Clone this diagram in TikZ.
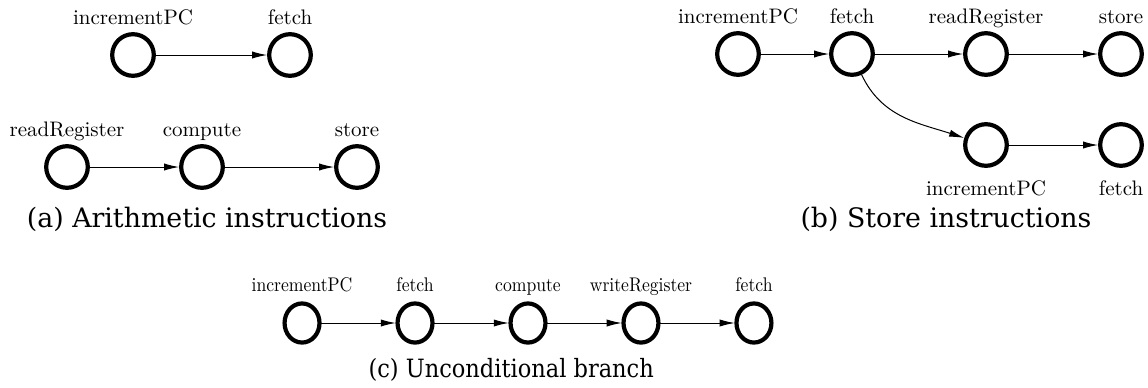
\documentclass[tikz,border=0pt]{standalone}
\usepackage{fontspec}
\newfontfamily\capfont{DejaVu Serif}
\usetikzlibrary{arrows.meta}
\begin{document}
\begin{tikzpicture}[x=0.5pt,y=0.5pt,
  state/.style={circle, draw, line width=2.1pt, minimum size=20.8pt, inner sep=0pt},
  lbl/.style={anchor=base, inner sep=0pt, font=\fontsize{10.5}{12}\selectfont},
  captext/.style={anchor=base, inner sep=0pt, font=\capfont\fontsize{13.4}{16}\selectfont},
  edge/.style={-{Latex[length=7.5pt,width=3.6pt]}, line width=0.5pt}]
\useasboundingbox (0,0) rectangle (1148,-387);

% (a) Arithmetic instructions
\node[state] (a1) at (133,-55) {};
\node[state] (a2) at (290,-55) {};
\node[state] (a3) at (67,-167) {};
\node[state] (a4) at (202,-167) {};
\node[state] (a5) at (357,-167) {};
\node[lbl] (la1) at (133,-24) {incrementPC};
\node[lbl] (la2) at (290,-24) {fetch};
\node[lbl] (la3) at (67,-136) {readRegister};
\node[lbl] (la4) at (202,-136) {compute};
\node[lbl] (la5) at (357,-136) {store};
\draw[edge] (a1) -- (a2);
\draw[edge] (a3) -- (a4);
\draw[edge] (a4) -- (a5);
\node[captext] (capa) at (207,-227) {(a) Arithmetic instructions};

% (b) Store instructions
\node[state] (b1) at (738,-54) {};
\node[state] (b2) at (852,-54) {};
\node[state] (b3) at (986,-54) {};
\node[state] (b4) at (1121,-54) {};
\node[state] (b5) at (986,-145) {};
\node[state] (b6) at (1121,-145) {};
\node[lbl] (lb1) at (738,-23) {incrementPC};
\node[lbl] (lb2) at (852,-23) {fetch};
\node[lbl] (lb3) at (986,-23) {readRegister};
\node[lbl] (lb4) at (1121,-23) {store};
\node[lbl] (lb5) at (986,-195) {incrementPC};
\node[lbl] (lb6) at (1121,-195) {fetch};
\draw[edge] (b1) -- (b2);
\draw[edge] (b2) -- (b3);
\draw[edge] (b3) -- (b4);
\draw[edge] (b2) to[out=-65,in=162] (b5);
\draw[edge] (b5) -- (b6);
\node[captext] (capb) at (946,-227) {(b) Store instructions};

% (c) Unconditional branch, set a little narrower
\begin{scope}[shift={(528,-323)}, xscale=0.84, yscale=0.94, transform shape]
\node[state] (c1) at (-269,0) {};
\node[state] (c2) at (-134.5,0) {};
\node[state] (c3) at (0,0) {};
\node[state] (c4) at (134.5,0) {};
\node[state] (c5) at (269,0) {};
\node[lbl] (lc1) at (-269,33) {incrementPC};
\node[lbl] (lc2) at (-134.5,33) {fetch};
\node[lbl] (lc3) at (0,33) {compute};
\node[lbl] (lc4) at (134.5,33) {writeRegister};
\node[lbl] (lc5) at (269,33) {fetch};
\draw[edge] (c1) -- (c2);
\draw[edge] (c2) -- (c3);
\draw[edge] (c3) -- (c4);
\draw[edge] (c4) -- (c5);
\node[captext] (capc) at (-20,-58.5) {(c) Unconditional branch};
\end{scope}
\end{tikzpicture}
\end{document}
